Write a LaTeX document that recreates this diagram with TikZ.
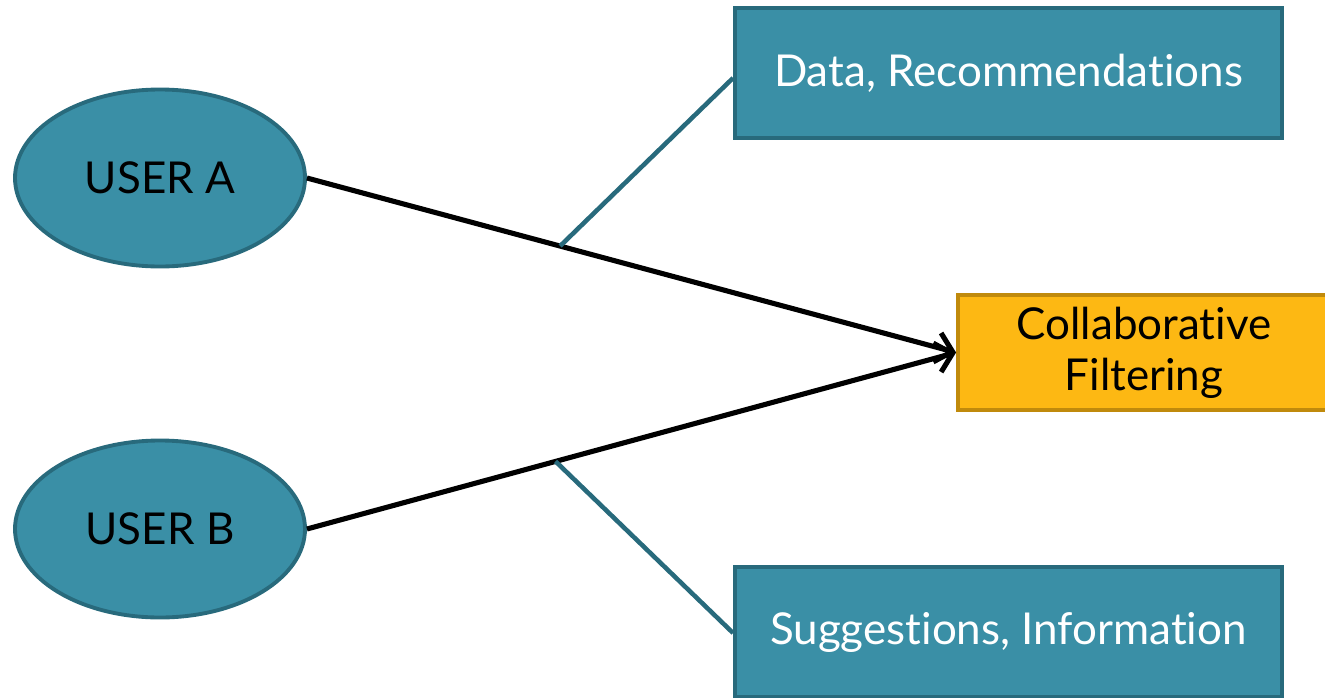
\documentclass[tikz,border=0pt]{standalone}
\usepackage{fontspec}
\setmainfont[Ligatures={NoCommon}]{Lato}
\usetikzlibrary{shapes.geometric,arrows.meta}
\definecolor{tealfill}{HTML}{3A8FA6}
\definecolor{tealedge}{HTML}{286A7C}
\definecolor{goldfill}{HTML}{FDB813}
\definecolor{goldedge}{HTML}{C08A0C}
\tikzset{
  userbubble/.style={ellipse, draw=tealedge, fill=tealfill, line width=2.2pt,
    minimum width=5.8cm, minimum height=3.54cm, inner sep=0pt,
    font=\fontsize{25}{30}\selectfont, text=black},
  infobox/.style={rectangle, draw=tealedge, fill=tealfill, line width=2.2pt,
    minimum width=10.94cm, minimum height=2.6cm, inner sep=0pt,
    font=\fontsize{25}{30}\selectfont, text=white},
  cfbox/.style={rectangle, draw=goldedge, fill=goldfill, line width=2.2pt,
    minimum width=7.44cm, minimum height=2.3cm, inner sep=0pt, align=center,
    font=\fontsize{25}{29}\selectfont, text=black},
  flow/.style={black, line width=2.9pt, -{Straight Barb[length=9pt,width=17pt,line width=2.9pt]}},
  branch/.style={tealedge, line width=2.6pt}
}
\begin{document}
\begin{tikzpicture}
  \useasboundingbox (0,0) rectangle (26.5,-13.94);
  \clip (0,0) rectangle (26.5,-13.94);

  % users on the left
  \node[userbubble] (ua) at (3.2,-3.56) {USER A};
  \node[userbubble] (ub) at (3.2,-10.58) {USER B};

  % filtering engine and its two inputs
  \node[cfbox] (cf) at (22.88,-7.05) {Collaborative\\Filtering};
  \node[infobox] (dr) at (20.17,-1.46) {\raisebox{-2pt}{Data, Recommendations}};
  \node[infobox] (si) at (20.17,-12.64) {\raisebox{-2pt}{Suggestions, Information}};

  % user flows into the engine
  \draw[flow] (ua.east) -- (cf.west) coordinate[pos=0.39] (ja);
  \draw[flow] (ub.east) -- (cf.west) coordinate[pos=0.383] (jb);

  % side branches
  \draw[branch] (ja) -- (dr.west |- 0,-1.56) coordinate (da);
  \draw[branch] (jb) -- (si.west |- 0,-12.66) coordinate (sa);
\end{tikzpicture}
\end{document}
